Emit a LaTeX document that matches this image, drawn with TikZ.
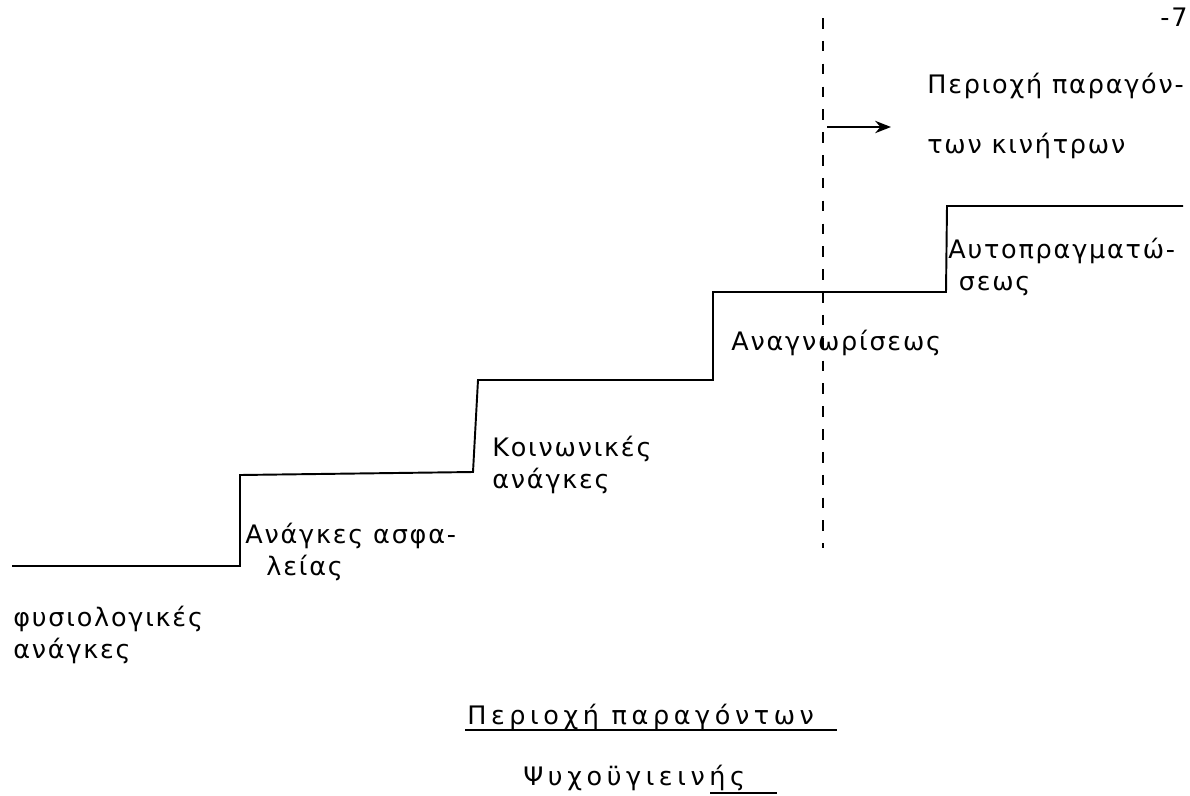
\documentclass[tikz,border=0pt]{standalone}
\usepackage{fontspec}
\newfontfamily\typofont{DejaVu Sans}[LetterSpace=7]
\newfontfamily\titlefont{DejaVu Sans}[LetterSpace=18]
\usetikzlibrary{arrows.meta}

\tikzset{
  stair/.style={line width=1.1pt},
  limit/.style={line width=1.2pt, dash pattern=on 6pt off 7pt},
  label/.style={anchor=west, inner sep=0pt, font=\typofont\fontsize{14.5}{18}\selectfont, align=left},
  heading/.style={label, font=\titlefont\fontsize{14.5}{18}\selectfont},
}

\begin{document}
\begin{tikzpicture}[x=0.02cm, y=-0.02cm]
			%%%%% START %%%%%
			\useasboundingbox (0, 0) rectangle (1190, 795);
			
			% corners of the steps
			\coordinate (s0) at (12, 566);
			\coordinate (s1) at (240, 566);
			\coordinate (s2) at (240, 475);
			\coordinate (s3) at (473, 472);
			\coordinate (s4) at (478, 380);
			\coordinate (s5) at (713, 380);
			\coordinate (s6) at (713, 292);
			\coordinate (s7) at (946, 292);
			\coordinate (s8) at (947, 206);
			\coordinate (s9) at (1183, 206);
			
			\draw[stair] (s0) -- (s1) -- (s2) -- (s3) -- (s4) -- (s5) -- (s6) -- (s7) -- (s8) -- (s9);
			
			% border of the motivation area
			\coordinate (top) at (823, 18);
			\coordinate (bottom) at (823, 548);
			\coordinate (arrowstart) at (827, 127);
			\coordinate (arrowend) at (891, 127);
			\draw[limit] (top) -- (bottom);
			\draw[line width=1.2pt, -{Stealth[length=9pt, width=7pt]}] (arrowstart) -- (arrowend);
			
			\node[label, anchor=north east] (page) at (1188, 8) {-7};
			\node[label] (motivation) at (927, 116) {Περιοχή παραγόν-\\[16pt]των κινήτρων};
			
			\node[label] (selfreal) at (948, 267) {Αυτοπραγματώ-\\\hspace*{6pt}σεως};
			\node[label] (esteem) at (731, 343) {Αναγνωρίσεως};
			\node[label] (social) at (492, 465) {Κοινωνικές\\ανάγκες};
			\node[label] (safety) at (245, 552) {Ανάγκες ασφα-\\\hspace*{12pt}λείας};
			\node[label] (physio) at (13, 635) {φυσιολογικές\\ανάγκες};
			
			\node[heading] (title) at (467, 717) {Περιοχή παραγόντων};
			\node[heading] (subtitle) at (523, 778) {Ψυχοϋγιεινής};
			\draw[line width=1pt] (465, 730) -- (837, 730);
			\draw[line width=1pt] (710, 793) -- (777, 793);
			
			%%%%% END %%%%%
		\end{tikzpicture}
\end{document}
